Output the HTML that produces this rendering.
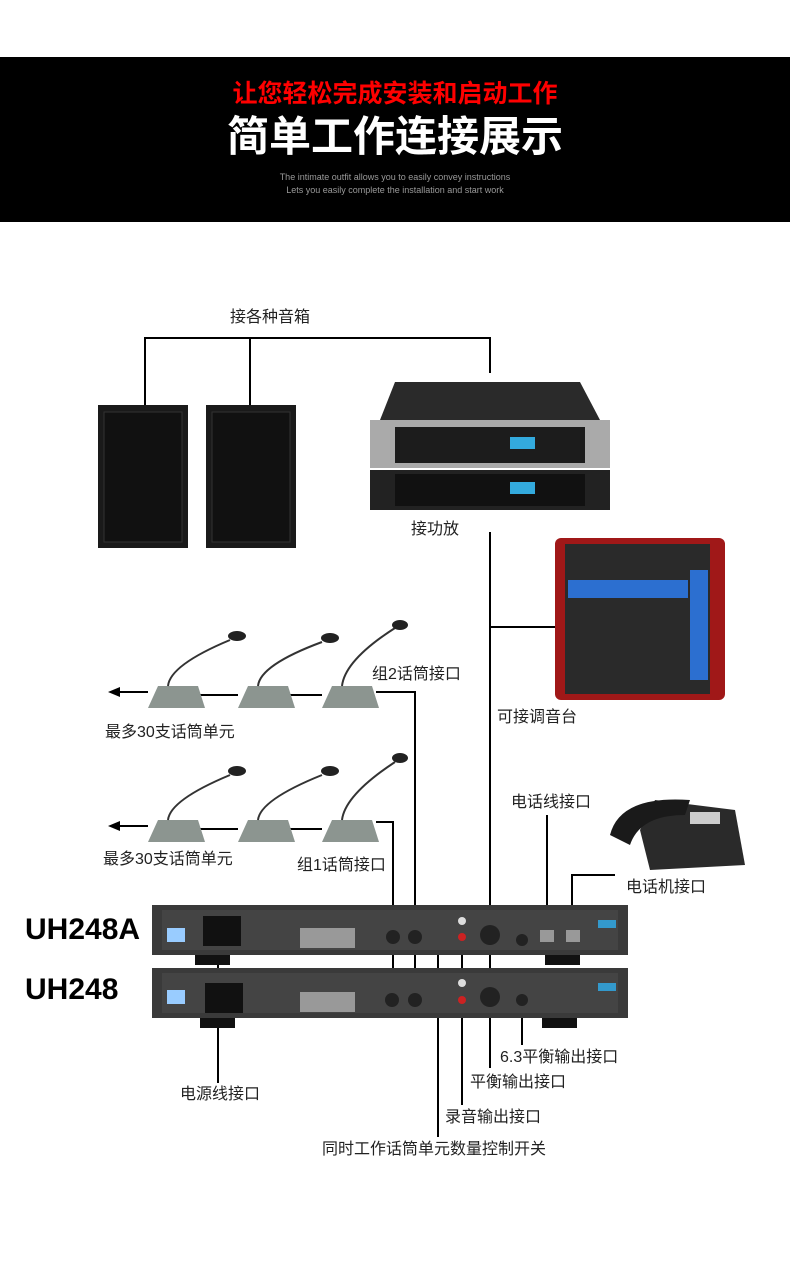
<!DOCTYPE html>
<html><head><meta charset="utf-8"><style>
body{margin:0;width:790px;height:1261px;background:#fff;overflow:hidden;position:relative;font-family:"Liberation Sans","Noto Sans CJK SC",sans-serif}
.t{position:absolute;font-size:16px;color:#222;white-space:nowrap;line-height:1}
</style></head><body>
<div style="position:absolute;left:0;top:57px;width:790px;height:165px;background:#000"></div>
<div class="t" style="left:0;width:790px;text-align:center;top:82px;font-size:25px;font-weight:bold;color:#f00;">让您轻松完成安装和启动工作</div>
<div class="t" style="left:0;width:790px;text-align:center;top:116px;font-size:42px;font-weight:bold;color:#fff;">简单工作连接展示</div>
<div class="t" style="left:0;width:790px;text-align:center;top:173px;font-size:9px;color:#999;">The intimate outfit allows you to easily convey instructions</div>
<div class="t" style="left:0;width:790px;text-align:center;top:186px;font-size:9px;color:#999;">Lets you easily complete the installation and start work</div>

<svg width="790" height="1261" style="position:absolute;left:0;top:0">
<g stroke="#000" stroke-width="2" fill="none">
<path d="M145,405 V338 H490 V373"/><path d="M250,338 V405"/>
<path d="M490,532 V1068"/><path d="M490,627 H555"/>
<path d="M376,692 H415 V975"/><path d="M376,822 H393 V970"/>
<path d="M547,815 V935"/><path d="M615,875 H572 V935"/>
<path d="M218,965 V1083"/><path d="M522,990 V1045"/><path d="M462,950 V1105"/><path d="M438,940 V1137"/>
<path d="M148,692 H118"/><path d="M148,826 H118"/>
<path d="M200,695 H238 M290,695 H322 M200,829 H238 M290,829 H322"/>
</g>
<path d="M108,692 L120,687 L120,697z" fill="#000"/><path d="M108,826 L120,821 L120,831z" fill="#000"/>
<!-- speakers -->
<rect x="98" y="405" width="90" height="143" fill="#1a1a1a"/><rect x="104" y="412" width="78" height="130" fill="#111" stroke="#333"/>
<rect x="206" y="405" width="90" height="143" fill="#1a1a1a"/><rect x="212" y="412" width="78" height="130" fill="#111" stroke="#333"/>
<!-- amp -->
<path d="M380,420 L395,382 L580,382 L600,420z" fill="#2a2a2a"/>
<rect x="370" y="420" width="240" height="48" fill="#aaa"/><rect x="395" y="427" width="190" height="36" fill="#1c1c1c"/>
<rect x="370" y="470" width="240" height="40" fill="#222"/><rect x="395" y="474" width="190" height="32" fill="#111"/>
<rect x="510" y="437" width="25" height="12" fill="#3ad"/><rect x="510" y="482" width="25" height="12" fill="#3ad"/>
<!-- mixer -->
<rect x="555" y="538" width="170" height="162" rx="6" fill="#a01818"/>
<rect x="565" y="544" width="145" height="150" fill="#2a2a2a"/>
<rect x="568" y="580" width="120" height="18" fill="#2c6fd0"/>
<rect x="690" y="570" width="18" height="110" fill="#2c6fd0"/>
<!-- mics -->
<g fill="#8c9590">
<path d="M148,708 L158,686 H198 L205,708z"/><path d="M238,708 L248,686 H288 L295,708z"/><path d="M322,708 L332,686 H372 L379,708z"/>
<path d="M148,842 L158,820 H198 L205,842z"/><path d="M238,842 L248,820 H288 L295,842z"/><path d="M322,842 L332,820 H372 L379,842z"/>
</g>
<g stroke="#333" stroke-width="2" fill="none">
<path d="M168,686 Q170,665 230,640"/><path d="M258,686 Q260,665 322,642"/><path d="M342,686 Q345,660 395,628"/>
<path d="M168,820 Q170,800 230,775"/><path d="M258,820 Q260,800 322,775"/><path d="M342,820 Q345,795 395,762"/>
</g>
<g fill="#222"><ellipse cx="237" cy="636" rx="9" ry="5"/><ellipse cx="330" cy="638" rx="9" ry="5"/><ellipse cx="400" cy="625" rx="8" ry="5"/>
<ellipse cx="237" cy="771" rx="9" ry="5"/><ellipse cx="330" cy="771" rx="9" ry="5"/><ellipse cx="400" cy="758" rx="8" ry="5"/></g>
<!-- phone -->
<path d="M655,800 L735,810 L745,865 L650,870 L640,830z" fill="#2a2a2a"/>
<path d="M610,835 Q620,795 690,800 L685,815 Q640,815 630,845z" fill="#1a1a1a"/>
<rect x="690" y="812" width="30" height="12" fill="#ccc"/>
<!-- devices -->
<rect x="152" y="905" width="476" height="50" fill="#3a3a3a"/><rect x="162" y="910" width="456" height="40" fill="#444"/>
<rect x="195" y="955" width="35" height="10" fill="#111"/><rect x="545" y="955" width="35" height="10" fill="#111"/>
<rect x="152" y="968" width="476" height="50" fill="#3a3a3a"/><rect x="162" y="973" width="456" height="40" fill="#444"/>
<rect x="200" y="1018" width="35" height="10" fill="#111"/><rect x="542" y="1018" width="35" height="10" fill="#111"/>
<rect x="167" y="928" width="18" height="14" fill="#9cf"/><rect x="167" y="990" width="18" height="14" fill="#9cf"/>
<rect x="203" y="916" width="38" height="30" fill="#111"/><rect x="205" y="983" width="38" height="30" fill="#111"/>
<rect x="300" y="928" width="55" height="20" fill="#999"/><rect x="300" y="992" width="55" height="20" fill="#999"/>
<g fill="#222"><circle cx="393" cy="937" r="7"/><circle cx="415" cy="937" r="7"/><circle cx="392" cy="1000" r="7"/><circle cx="415" cy="1000" r="7"/>
<circle cx="490" cy="935" r="10"/><circle cx="490" cy="997" r="10"/><circle cx="522" cy="940" r="6"/><circle cx="522" cy="1000" r="6"/></g>
<g fill="#ddd"><circle cx="462" cy="921" r="4"/><circle cx="462" cy="983" r="4"/></g>
<g fill="#c22"><circle cx="462" cy="937" r="4"/><circle cx="462" cy="1000" r="4"/></g>
<rect x="540" y="930" width="14" height="12" fill="#999"/><rect x="566" y="930" width="14" height="12" fill="#999"/>
<rect x="598" y="920" width="18" height="8" fill="#39c"/><rect x="598" y="983" width="18" height="8" fill="#39c"/>
</svg>

<div class="t" style="left:230px;top:310px">接各种音箱</div>
<div class="t" style="left:411px;top:522px">接功放</div>
<div class="t" style="left:497px;top:710px">可接调音台</div>
<div class="t" style="left:372px;top:667px">组2话筒接口</div>
<div class="t" style="left:105px;top:725px">最多30支话筒单元</div>
<div class="t" style="left:103px;top:852px">最多30支话筒单元</div>
<div class="t" style="left:297px;top:858px">组1话筒接口</div>
<div class="t" style="left:511px;top:795px">电话线接口</div>
<div class="t" style="left:626px;top:880px">电话机接口</div>
<div class="t" style="left:25px;top:915px;font-size:30px;font-weight:bold;color:#000">UH248A</div>
<div class="t" style="left:25px;top:975px;font-size:30px;font-weight:bold;color:#000">UH248</div>
<div class="t" style="left:500px;top:1050px">6.3平衡输出接口</div>
<div class="t" style="left:470px;top:1075px">平衡输出接口</div>
<div class="t" style="left:180px;top:1087px">电源线接口</div>
<div class="t" style="left:445px;top:1110px">录音输出接口</div>
<div class="t" style="left:322px;top:1142px">同时工作话筒单元数量控制开关</div>
</body></html>
